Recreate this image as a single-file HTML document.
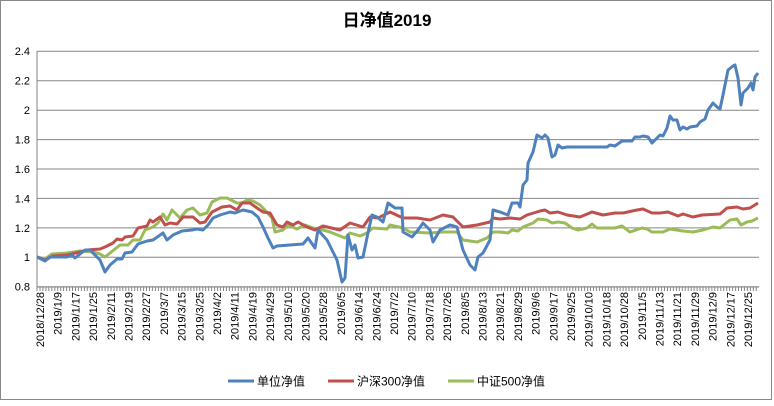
<!DOCTYPE html>
<html><head><meta charset="utf-8"><style>
html,body{margin:0;padding:0;background:#fff}
svg text{font-family:"Liberation Sans","Noto Sans CJK SC",sans-serif;fill:#000}
</style></head><body>
<svg width="774" height="401" viewBox="0 0 774 401" xmlns="http://www.w3.org/2000/svg">
<rect x="0.5" y="0.5" width="771" height="399" fill="#fff" stroke="#888"/>
<text x="387" y="26" font-size="17" font-weight="bold" text-anchor="middle" font-family="'Noto Sans CJK SC',sans-serif">日净值2019</text>
<g stroke="#868686" stroke-width="1">
<line x1="37" y1="51.3" x2="759" y2="51.3"/>
<line x1="37" y1="80.7" x2="759" y2="80.7"/>
<line x1="37" y1="110.2" x2="759" y2="110.2"/>
<line x1="37" y1="139.6" x2="759" y2="139.6"/>
<line x1="37" y1="169" x2="759" y2="169"/>
<line x1="37" y1="198.4" x2="759" y2="198.4"/>
<line x1="37" y1="227.9" x2="759" y2="227.9"/>
<line x1="37" y1="257.3" x2="759" y2="257.3"/>
<line x1="37" y1="286.7" x2="759" y2="286.7"/>
<line x1="37" y1="51" x2="37" y2="287"/>
</g>
<path id="ticks" stroke="#868686" stroke-width="1" d=""/>
<g font-size="11" text-anchor="end">
<text x="30" y="55">2.4</text><text x="30" y="84.5">2.2</text><text x="30" y="114">2</text><text x="30" y="143.5">1.8</text><text x="30" y="173">1.6</text><text x="30" y="202.5">1.4</text><text x="30" y="232">1.2</text><text x="30" y="261">1</text><text x="30" y="290.5">0.8</text>
</g>
<g id="xl" font-size="11" text-anchor="end"></g>
<g fill="none" stroke-width="3" stroke-linejoin="round">
<polyline stroke="#9bbb59" points="37,257 45,259 52,254 67,253 80,251 93,252 100,254 105,257 115,249 120,245 128,245 133,240 140,240 145,230 153,227 158,223 163,214 167,220 172,210 180,218 187,210 193,208 200,215 207,213 212,202 220,198 227,198 237,203 242,203 247,200 253,201 260,205 263,208 272,218 275,232 283,230 288,225 297,229 305,225 313,228 323,230 330,232 345,238 350,233 360,236 367,233 373,228 387,229 390,225 403,228 410,232 430,233 443,232 457,232 463,240 477,242 487,238 493,232 500,232 508,233 512,230 518,231 523,227 533,223 538,219 547,220 552,223 558,222 565,223 572,228 578,230 587,228 592,224 597,228 607,228 615,228 622,226 630,232 642,228 647,229 652,232 663,232 670,229 683,231 693,232 703,230 713,227 720,228 730,220 737,219 741,225 747,222 752,221 758,218"/>
<polyline stroke="#c0504d" points="37,257 45,260 53,256 67,255 80,252 87,250 100,249 105,247 113,243 117,239 122,240 125,237 133,236 138,228 147,226 150,220 153,222 160,217 165,225 170,223 177,224 183,217 193,217 200,223 205,222 212,212 222,207 230,206 237,210 242,203 250,203 257,208 263,212 270,213 277,225 283,227 287,222 293,225 298,222 307,227 315,230 323,226 340,230 350,223 363,227 370,217 378,218 390,212 403,218 417,218 430,220 443,215 453,217 463,227 477,225 490,222 493,218 500,219 510,218 520,219 527,215 540,211 545,210 550,213 558,212 567,215 580,217 592,212 603,215 615,213 623,213 637,210 643,209 652,213 660,213 668,212 678,216 683,214 693,217 702,215 720,214 727,208 737,207 743,209 750,208 758,203"/>
<polyline stroke="#4f81bd" points="37,257 45,261 50,257 58,257 67,257 72,255 75,258 85,250 90,250 100,260 105,272 110,265 117,259 122,259 125,253 132,252 138,244 147,241 153,240 163,233 167,240 173,235 182,231 192,230 197,229 203,230 208,225 213,218 220,215 230,212 235,213 243,210 252,212 258,217 263,227 268,238 273,248 277,246 303,244 308,238 315,248 318,230 327,240 337,260 342,282 345,278 348,235 352,250 355,245 358,258 363,257 368,233 372,215 377,217 383,222 388,203 395,208 402,208 403,232 412,237 418,230 423,223 430,230 433,242 440,230 450,225 457,227 463,250 470,265 475,270 478,257 483,253 490,240 493,210 500,212 508,215 512,203 518,203 520,207 523,185 527,180 528,163 533,152 537,135 542,138 545,135 548,138 552,157 555,155 558,145 562,148 567,147 580,147 607,147 610,145 615,146 622,141 632,141 635,137 640,137 643,136 648,137 652,143 657,138 660,135 663,136 667,128 670,116 673,120 677,120 680,130 683,127 687,129 690,127 697,126 700,122 705,119 708,110 713,103 717,107 720,109 723,95 728,70 733,66 735,65 738,78 741,105 743,93 748,88 751,83 753,90 755,77 758,73"/>
</g>
<g font-size="12" font-family="'Noto Sans CJK SC',sans-serif">
<line x1="228" y1="381" x2="254" y2="381" stroke="#4f81bd" stroke-width="3"/>
<text x="257" y="385.5">单位净值</text>
<line x1="328" y1="381" x2="354" y2="381" stroke="#c0504d" stroke-width="3"/>
<text x="357" y="385.5">沪深300净值</text>
<line x1="448" y1="381" x2="474" y2="381" stroke="#9bbb59" stroke-width="3"/>
<text x="477" y="385.5">中证500净值</text>
</g>
<script>
(function(){
var labels=["2018/12/28","2019/1/9","2019/1/17","2019/1/25","2019/2/11","2019/2/19","2019/2/27","2019/3/7","2019/3/15","2019/3/25","2019/4/2","2019/4/11","2019/4/19","2019/4/29","2019/5/10","2019/5/20","2019/5/28","2019/6/5","2019/6/14","2019/6/24","2019/7/2","2019/7/10","2019/7/18","2019/7/26","2019/8/5","2019/8/13","2019/8/21","2019/8/29","2019/9/6","2019/9/17","2019/9/25","2019/10/10","2019/10/18","2019/10/28","2019/11/5","2019/11/13","2019/11/21","2019/11/29","2019/12/9","2019/12/17","2019/12/25"];
var g=document.getElementById('xl'),ns="http://www.w3.org/2000/svg";
labels.forEach(function(l,i){var x=40+i*17.7;var t=document.createElementNS(ns,'text');t.setAttribute('transform','translate('+(x+4)+',292) rotate(-90)');t.textContent=l;g.appendChild(t);});
var d="";for(var x=37;x<=759;x+=2.96){d+="M"+x.toFixed(1)+",287v4";}
document.getElementById('ticks').setAttribute('d',d+"M37,287H759");
})();
</script>
</svg>
</body></html>
